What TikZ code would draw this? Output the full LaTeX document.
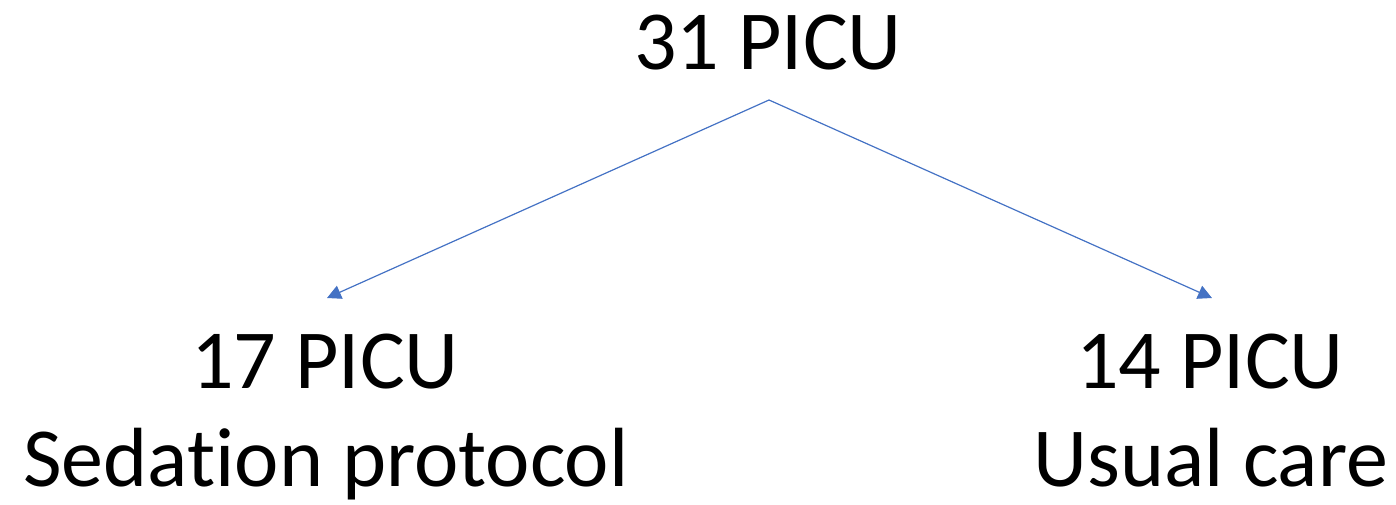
\documentclass[tikz,border=0pt]{standalone}
\usepackage{fontspec}
\setmainfont{Carlito}[Ligatures={NoCommon}]
\usetikzlibrary{arrows.meta}
\definecolor{lineblue}{HTML}{4472C4}
\tikzset{
  lbl/.style={anchor=base, inner sep=0pt, font=\fontsize{84}{100}\selectfont},
  conn/.style={draw=lineblue, line width=1.2pt, -{Triangle[length=14pt,width=14pt]}}
}
\begin{document}
\begin{tikzpicture}[x=1pt,y=-1pt]
\useasboundingbox (0,0) rectangle (1396,505);
\node[lbl] (top) at (768,70) {31 PICU};
\node[lbl] (l1) at (325,388) {17 PICU};
\node[lbl] (l2) at (326,486) {Sedation protocol};
\node[lbl] (r1) at (1210,388) {14 PICU};
\node[lbl] (r2) at (1211,486) {Usual care};
\coordinate (apex) at (769,100);
\coordinate (lt) at (327,298);
\coordinate (rt) at (1212,298);
\draw[conn] (apex) -- (lt);
\draw[conn] (apex) -- (rt);
\end{tikzpicture}
\end{document}
